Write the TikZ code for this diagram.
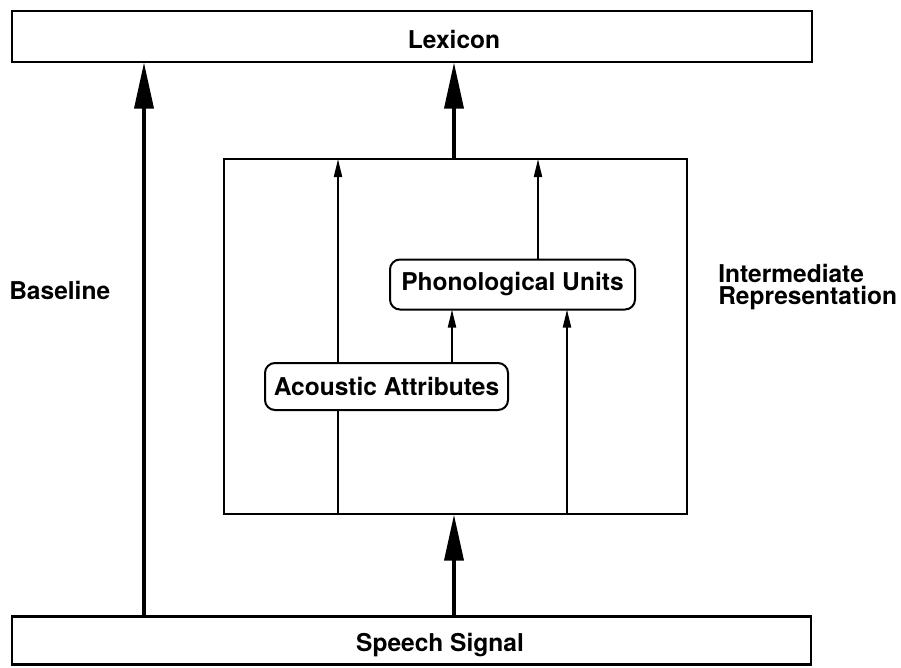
\documentclass[tikz,border=0pt]{standalone}
\usepackage{fontspec}
\setmainfont{TeX Gyre Heros}
\usetikzlibrary{arrows.meta}

\tikzset{
  lbl/.style={font=\fontsize{18.4pt}{16.5pt}\selectfont\bfseries, inner sep=0pt},
  bar/.style={draw, line width=1.9pt, inner sep=0pt, outer sep=0pt},
  framebox/.style={draw, line width=1.6pt, inner sep=0pt, outer sep=0pt},
  unit/.style={draw, line width=1.5pt, rounded corners=7.5pt, fill=white,
    inner sep=0pt, outer sep=0pt, font=\fontsize{18.4pt}{22pt}\selectfont\bfseries},
  heavy/.style={line width=3.6pt, -{Triangle[length=35pt, width=14pt]}},
  light/.style={line width=1.5pt, -{Triangle[length=13.5pt, width=6pt]}},
  plain/.style={line width=1.5pt}
}

\begin{document}
\begin{tikzpicture}[x=0.75pt, y=-0.75pt]
  \useasboundingbox (0,0) rectangle (901,668);

  % columns of the vertical connectors
  \coordinate (cBase)  at (144,0);
  \coordinate (cMid)   at (454,0);
  \coordinate (cLeft)  at (338,0);
  \coordinate (cAc)    at (452,0);
  \coordinate (cUp)    at (538,0);
  \coordinate (cRight) at (567,0);

  % the two outer levels
  \node[bar, minimum width=600pt, minimum height=38.25pt] (lex) at (412,36.5) {};
  \node[lbl, anchor=base] (lexText) at (454,48) {Lexicon};
  \node[bar, minimum width=599.25pt, minimum height=36pt] (speech) at (411.5,640.5) {};
  \node[lbl, anchor=base] (speechText) at (440,651) {Speech Signal};

  % intermediate representation
  \node[framebox, minimum width=347.25pt, minimum height=266.25pt] (frame) at (455.5,336.5) {};
  \node[unit, minimum width=183.75pt, minimum height=37.5pt] (phon) at (512.5,284.5) {Phonological Units};
  \node[unit, minimum width=182.25pt, minimum height=35.25pt] (acou) at (386.5,386.5) {Acoustic Attributes};

  % side labels
  \node[lbl, anchor=base west] (baseText) at (9,299) {Baseline};
  \node[lbl, anchor=west, align=left] (interText) at (718,287) {Intermediate\\Representation};

  % baseline path
  \draw[heavy] (speech.north -| cBase) -- (lex.south -| cBase);

  % through the intermediate level
  \draw[heavy] (speech.north -| cMid) -- (frame.south -| cMid);
  \draw[heavy] (frame.north -| cMid) -- (lex.south -| cMid);

  % inside the intermediate level
  \draw[plain] (frame.south -| cLeft) -- (acou.south -| cLeft);
  \draw[light] (acou.north -| cLeft) -- (frame.north -| cLeft);
  \draw[light] (acou.north -| cAc) -- (phon.south -| cAc);
  \draw[light] (frame.south -| cRight) -- (phon.south -| cRight);
  \draw[light] (phon.north -| cUp) -- (frame.north -| cUp);
\end{tikzpicture}
\end{document}
